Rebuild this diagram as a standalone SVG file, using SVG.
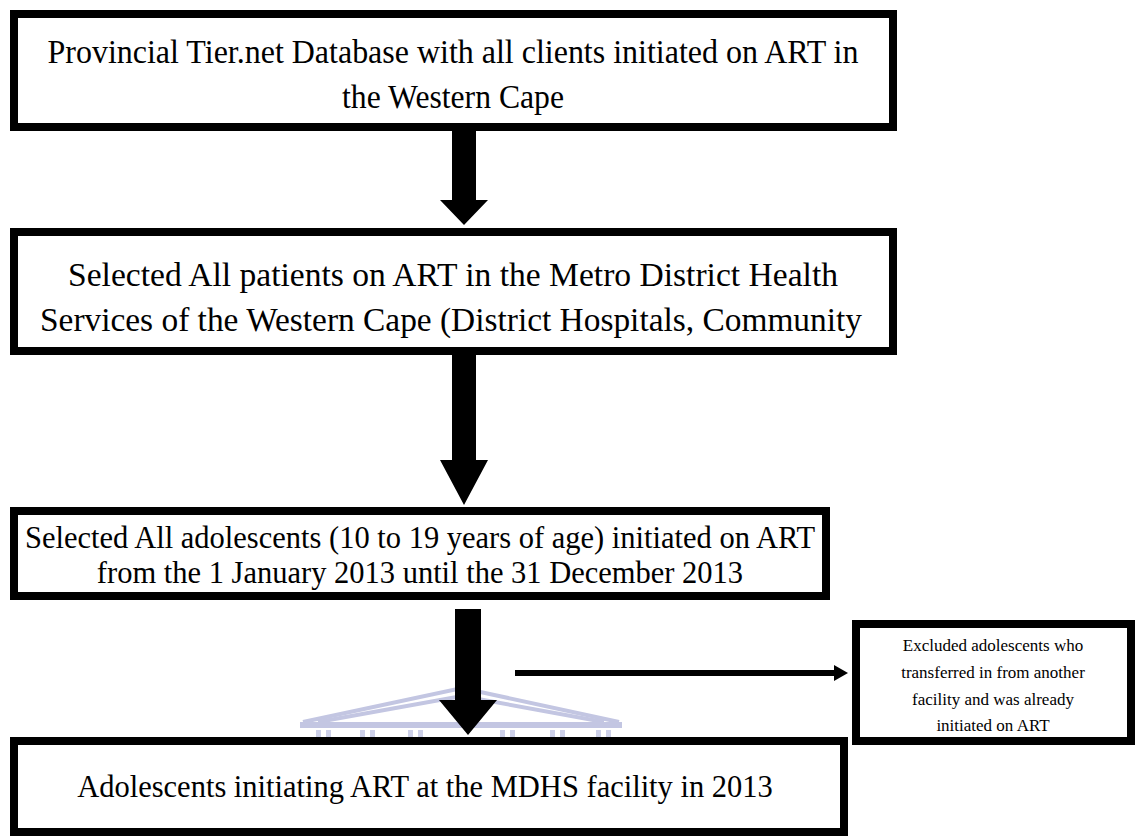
<svg xmlns="http://www.w3.org/2000/svg" width="1141" height="836" viewBox="0 0 1141 836">
<style>
.box{fill:#fff;stroke:#000;stroke-width:8}
.t{font-family:"Liberation Serif","Times New Roman",serif;fill:#000;text-anchor:middle}
.tall{font-size:34px}
.big{font-size:30.5px}
.small{font-size:17px}
.wm{fill:none;stroke:#c3c6e2;stroke-width:4}
</style>
<rect width="1141" height="836" fill="#fff"/>
<g id="watermark">
<path class="wm" d="M303 722 L462 688 L619 722"/>
<path class="wm" d="M318 722 L462 696 L604 722"/>
<rect x="300" y="722" width="322" height="6" fill="#c3c6e2"/>
<g fill="#cdd0e8">
<rect x="316" y="730" width="5" height="8"/><rect x="326" y="730" width="5" height="8"/>
<rect x="360" y="730" width="5" height="8"/><rect x="370" y="730" width="5" height="8"/>
<rect x="408" y="730" width="5" height="8"/><rect x="418" y="730" width="5" height="8"/>
<rect x="500" y="730" width="5" height="8"/><rect x="510" y="730" width="5" height="8"/>
<rect x="550" y="730" width="5" height="8"/><rect x="560" y="730" width="5" height="8"/>
<rect x="596" y="730" width="5" height="8"/><rect x="606" y="730" width="5" height="8"/>
</g>
</g>
<g id="connectors" fill="#000">
<polygon points="452,131 476,131 476,200 488,200 464,225 440,200 452,200"/>
<polygon points="452,355 476,355 476,460 488,460 464,505 440,460 452,460"/>
<polygon points="455,609 481,609 481,700 497,700 468,735 439,700 455,700"/>
<polygon points="515,670 834,670 834,665 848,673 834,681 834,676 515,676"/>
</g>
<g id="node1">
<rect class="box" x="14" y="14" width="879" height="113"/>
<text class="t tall" x="453" y="63" textLength="811" lengthAdjust="spacingAndGlyphs">Provincial Tier.net Database with all clients initiated on ART in</text>
<text class="t tall" x="453" y="108" textLength="222" lengthAdjust="spacingAndGlyphs">the Western Cape</text>
</g>
<g id="node2">
<rect class="box" x="14" y="232" width="879" height="119"/>
<text class="t tall" x="453" y="286" textLength="770" lengthAdjust="spacingAndGlyphs">Selected All patients on ART in the Metro District Health</text>
<text class="t tall" x="451" y="331" textLength="822" lengthAdjust="spacingAndGlyphs">Services of the Western Cape (District Hospitals, Community</text>
</g>
<g id="node3">
<rect class="box" x="14" y="511" width="812" height="85"/>
<text class="t big" x="420" y="548">Selected All adolescents (10 to 19 years of age) initiated on ART</text>
<text class="t big" x="420" y="583">from the 1 January 2013 until the 31 December 2013</text>
</g>
<g id="node4">
<rect class="box" x="856" y="624" width="275" height="117"/>
<text class="t small" x="993" y="651">Excluded adolescents who</text>
<text class="t small" x="993" y="678">transferred in from another</text>
<text class="t small" x="993" y="705">facility and was already</text>
<text class="t small" x="993" y="731">initiated on ART</text>
</g>
<g id="node5">
<rect class="box" x="14" y="741" width="830" height="91"/>
<text class="t big" x="425" y="797">Adolescents initiating ART at the MDHS facility in 2013</text>
</g>
</svg>
